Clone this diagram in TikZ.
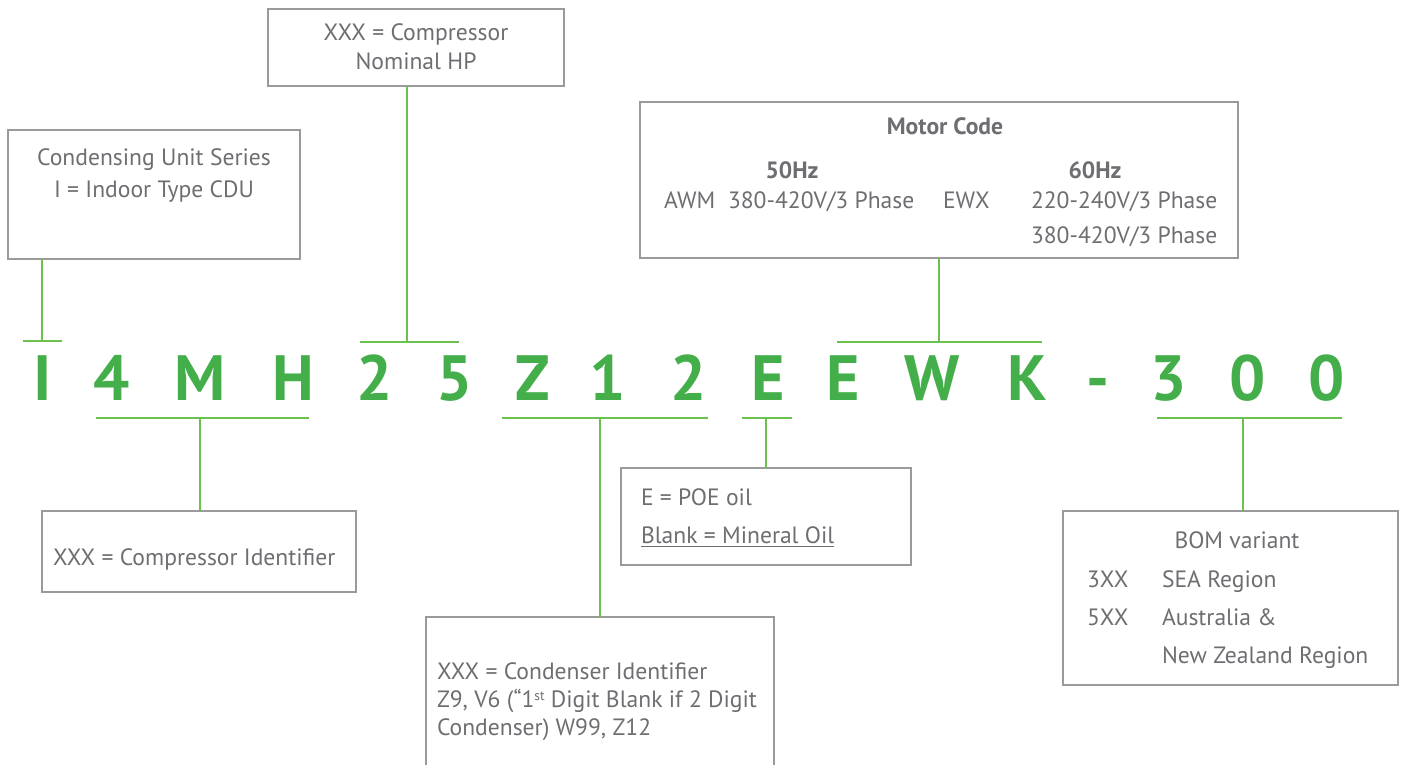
\documentclass[tikz,border=0pt]{standalone}
\usepackage{fontspec}
\setmainfont{PT Sans}
\begin{document}
\begin{tikzpicture}[x=1pt,y=-1pt,
  every node/.style={inner sep=0pt,outer sep=0pt},
  txt/.style={text=textgray,font=\fontsize{23.6}{27}\selectfont},
  btxt/.style={text=textgray,font=\fontsize{23.6}{27}\selectfont\bfseries},
  code/.style={text=codegreen,font=\fontsize{64}{70}\selectfont\bfseries,anchor=base},
  box/.style={draw=boxgray,line width=1.2pt},
  conn/.style={draw=linegreen,line width=2.6pt}]
\definecolor{textgray}{HTML}{6D6E71}
\definecolor{boxgray}{HTML}{9A9A9A}
\definecolor{codegreen}{HTML}{43AE4A}
\definecolor{linegreen}{HTML}{6CC04E}
\useasboundingbox (0,0) rectangle (1403,764);

% code letters
\node[code] (c1) at (43,400) {I};
\node[code] (c2) at (112,400) {4};
\node[code] (c3) at (200,400) {M};
\node[code] (c4) at (293,400) {H};
\node[code] (c5) at (375,400) {2};
\node[code] (c6) at (455,400) {5};
\node[code] (c7) at (533,400) {Z};
\node[code] (c8) at (608,400) {1};
\node[code] (c9) at (689,400) {2};
\node[code] (c10) at (768,400) {E};
\node[code] (c11) at (843,400) {E};
\node[code] (c12) at (932,400) {W};
\node[code] (c13) at (1027,400) {K};
\node[code] (c14) at (1098,400) {-};
\node[code] (c15) at (1169,400) {3};
\node[code] (c16) at (1248,400) {0};
\node[code] (c17) at (1327,400) {0};

% boxes
\node[box,anchor=north west,minimum width=292,minimum height=129] (bseries) at (8,130) {};
\node[box,anchor=north west,minimum width=296,minimum height=77] (bhp) at (268,9) {};
\node[box,anchor=north west,minimum width=598,minimum height=156] (bmotor) at (640,102) {};
\node[box,anchor=north west,minimum width=314,minimum height=81] (bcid) at (42,511) {};
\node[box,anchor=north west,minimum width=290,minimum height=97] (boil) at (621,468) {};
\node[box,anchor=north west,minimum width=348,minimum height=180] (bcond) at (426,617) {};
\node[box,anchor=north west,minimum width=335,minimum height=174] (bbom) at (1063,511) {};

% box texts
\node[txt,anchor=base] (t1) at (154,165) {Condensing Unit Series};
\node[txt,anchor=base] (t2) at (154,197) {I = Indoor Type CDU};
\node[txt,anchor=base] (t3) at (416,40) {XXX = Compressor};
\node[txt,anchor=base] (t4) at (416,69) {Nominal HP};
\node[btxt,anchor=base] (t5) at (945,134) {Motor Code};
\node[btxt,anchor=base] (t6) at (792,178) {50Hz};
\node[btxt,anchor=base] (t7) at (1095,178) {60Hz};
\node[txt,anchor=base west] (t8) at (664,208) {AWM};
\node[txt,anchor=base west] (t9) at (728,208) {380-420V/3 Phase};
\node[txt,anchor=base west] (t10) at (943,208) {EWX};
\node[txt,anchor=base west] (t11) at (1031,208) {220-240V/3 Phase};
\node[txt,anchor=base west] (t12) at (1031,243) {380-420V/3 Phase};
\node[txt,anchor=base west] (t13) at (53,565) {XXX = Compressor Identifier};
\node[txt,anchor=base west] (t14) at (641,505) {E = POE oil};
\node[txt,anchor=base west] (t15) at (641,543) {Blank = Mineral Oil};
\draw[draw=textgray,line width=1pt] ([yshift=-3.5]t15.base west) -- ([yshift=-3.5]t15.base east);
\node[txt,anchor=base west] (t16) at (437,679) {XXX = Condenser Identifier};
\node[txt,anchor=base west] (t17) at (437,707) {Z9, V6 (“1\raisebox{0.55ex}{\fontsize{13.5}{14}\selectfont st} Digit Blank if 2 Digit};
\node[txt,anchor=base west] (t18) at (437,735) {Condenser) W99, Z12};
\node[txt,anchor=base] (t19) at (1237,548) {BOM variant};
\node[txt,anchor=base west] (t20) at (1087,587) {3XX};
\node[txt,anchor=base west] (t21) at (1162,587) {SEA Region};
\node[txt,anchor=base west] (t22) at (1087,625) {5XX};
\node[txt,anchor=base west] (t23) at (1162,625) {Australia \&};
\node[txt,anchor=base west] (t24) at (1162,663) {New Zealand Region};

% bar coordinates
\coordinate (kI) at (42,341);
\coordinate (k25) at (407,342);
\coordinate (kEWK) at (939,342);
\coordinate (k4MH) at (200,418);
\coordinate (kZ12) at (600,418);
\coordinate (kE) at (766,418);
\coordinate (k300) at (1243,418);

% bars
\draw[conn] (23,341) -- (62,341);
\draw[conn] (360,342) -- (459,342);
\draw[conn] (837,342) -- (1042,342);
\draw[conn] (96,418) -- (309,418);
\draw[conn] (502,418) -- (708,418);
\draw[conn] (742,418) -- (792,418);
\draw[conn] (1157,418) -- (1342,418);

% connectors
\draw[conn] (bseries.south -| kI) -- (kI);
\draw[conn] (bhp.south -| k25) -- (k25);
\draw[conn] (bmotor.south -| kEWK) -- (kEWK);
\draw[conn] (k4MH) -- (bcid.north -| k4MH);
\draw[conn] (kZ12) -- (bcond.north -| kZ12);
\draw[conn] (kE) -- (boil.north -| kE);
\draw[conn] (k300) -- (bbom.north -| k300);
\end{tikzpicture}
\end{document}
